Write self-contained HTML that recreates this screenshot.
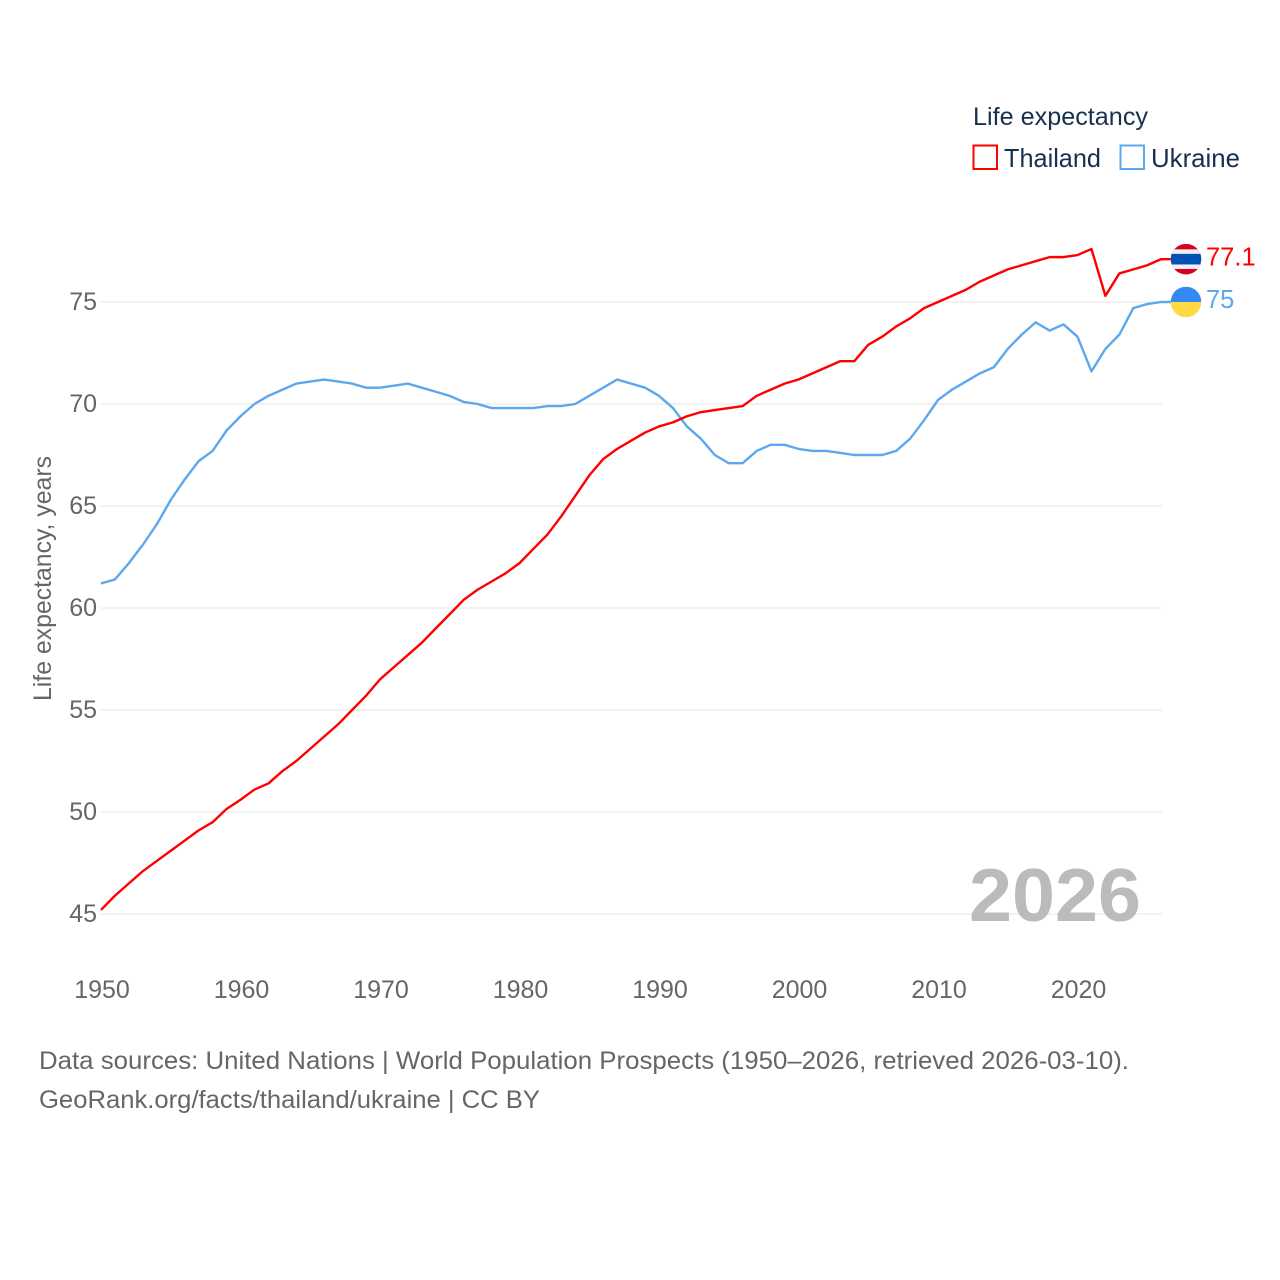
<!DOCTYPE html>
<html lang="en">
<head>
<meta charset="utf-8">
<title>Life expectancy: Thailand vs Ukraine</title>
<style>
html,body{margin:0;padding:0;background:#fff;width:1280px;height:1280px;overflow:hidden}
svg{display:block;font-family:"Liberation Sans",sans-serif}
</style>
</head>
<body>
<svg id="chart" xmlns="http://www.w3.org/2000/svg" width="1280" height="1280" viewBox="0 0 1280 1280">
  <g id="grid"></g>
  <g id="yticks"></g>
  <g id="xticks"></g>
  <text transform="translate(51,701) rotate(-90)" font-size="25" fill="#666" textLength="245" lengthAdjust="spacingAndGlyphs">Life expectancy, years</text>
  <text x="969" y="921" font-size="75" font-weight="700" fill="#bbb" textLength="172" lengthAdjust="spacingAndGlyphs">2026</text>
  <g id="series"></g>

  <g id="flag-thailand"></g>
  <g id="flag-ukraine"></g>
  <g id="endlabels"></g>

  <g>
    <text x="973" y="125" font-size="25" fill="#18304f" textLength="175" lengthAdjust="spacingAndGlyphs">Life expectancy</text>
    <rect x="973.5" y="145.5" width="23.5" height="23.5" fill="none" stroke="#ff0000" stroke-width="2"/>
    <text x="1004" y="167" font-size="26" fill="#18304f" textLength="97" lengthAdjust="spacingAndGlyphs">Thailand</text>
    <rect x="1120.5" y="145.5" width="23.5" height="23.5" fill="none" stroke="#5ca8ef" stroke-width="2"/>
    <text x="1151" y="167" font-size="26" fill="#18304f" textLength="89" lengthAdjust="spacingAndGlyphs">Ukraine</text>
  </g>

  <g>
    <text x="39" y="1069" font-size="25" fill="#666" textLength="1090" lengthAdjust="spacingAndGlyphs">Data sources: United Nations | World Population Prospects (1950–2026, retrieved 2026-03-10).</text>
    <text x="39" y="1108" font-size="25" fill="#666" textLength="501" lengthAdjust="spacingAndGlyphs">GeoRank.org/facts/thailand/ukraine | CC BY</text>
  </g>
</svg>
<script>
const years = [];
for (let y = 1950; y <= 2026; y++) years.push(y);

const thailandValues = [45.2,45.9,46.5,47.1,47.6,48.1,48.6,49.1,49.5,50.15,50.6,51.1,51.4,52.0,52.5,53.1,53.7,54.3,55.0,55.7,56.5,57.1,57.7,58.3,59.0,59.7,60.4,60.9,61.3,61.7,62.2,62.9,63.6,64.5,65.5,66.5,67.3,67.8,68.2,68.6,68.9,69.1,69.4,69.6,69.7,69.8,69.9,70.4,70.7,71.0,71.2,71.5,71.8,72.1,72.1,72.9,73.3,73.8,74.2,74.7,75.0,75.3,75.6,76.0,76.3,76.6,76.8,77.0,77.2,77.2,77.3,77.6,75.3,76.4,76.6,76.8,77.1];

const ukraineValues = [61.2,61.4,62.2,63.1,64.1,65.3,66.3,67.2,67.7,68.7,69.4,70.0,70.4,70.7,71.0,71.1,71.2,71.1,71.0,70.8,70.8,70.9,71.0,70.8,70.6,70.4,70.1,70.0,69.8,69.8,69.8,69.8,69.9,69.9,70.0,70.4,70.8,71.2,71.0,70.8,70.4,69.8,68.9,68.3,67.5,67.1,67.1,67.7,68.0,68.0,67.8,67.7,67.7,67.6,67.5,67.5,67.5,67.7,68.3,69.2,70.2,70.7,71.1,71.5,71.8,72.7,73.4,74.0,73.6,73.9,73.3,71.6,72.7,73.4,74.7,74.9,75.0];

const yTickValues = [45,50,55,60,65,70,75];
const xTickValues = [1950,1960,1970,1980,1990,2000,2010,2020];
const thailandEndLabel = "77.1";
const ukraineEndLabel = "75";

const NS = "http://www.w3.org/2000/svg";
const xScale = function (year) { return 101 + (year - 1950) * 13.95; };
const yScale = function (value) { return 914 - (value - 45) * 20.4; };

function svgEl(tag, attrs, parent) {
  const el = document.createElementNS(NS, tag);
  for (const k in attrs) el.setAttribute(k, attrs[k]);
  parent.appendChild(el);
  return el;
}

const gridGroup = document.getElementById("grid");
const yTickGroup = document.getElementById("yticks");
const xTickGroup = document.getElementById("xticks");
const seriesGroup = document.getElementById("series");
const labelGroup = document.getElementById("endlabels");

yTickValues.forEach(function (v) {
  const line = svgEl("line", {x1: 101, x2: 1162, y1: yScale(v), y2: yScale(v), stroke: "#eeeeee", "stroke-width": 1.5}, gridGroup);
  
  
  const t = svgEl("text", {x: 97, y: yScale(v) + 8, "text-anchor": "end", "font-size": 25, fill: "#666"}, yTickGroup);
  
  
  t.textContent = v;
});

xTickValues.forEach(function (v) {
  const t = svgEl("text", {x: xScale(v) + 1, y: 998, "text-anchor": "middle", "font-size": 25, fill: "#666"}, xTickGroup);
  
  
  t.textContent = v;
});

function linePath(values) {
  let d = values.map(function (v, i) {
    return (i ? "L" : "M") + xScale(years[i]).toFixed(2) + " " + yScale(v).toFixed(2);
  }).join(" ");
  const last = values[values.length - 1];
  d += " L" + (xScale(years[years.length - 1]) + 10).toFixed(2) + " " + yScale(last).toFixed(2);
  return d;
}

const ukraineLine = svgEl("path", {d: linePath(ukraineValues), fill: "none", stroke: "#5ca8ef", "stroke-width": 2.4, "stroke-linejoin": "round"}, seriesGroup);



const thailandLine = svgEl("path", {d: linePath(thailandValues), fill: "none", stroke: "#ff0000", "stroke-width": 2.4, "stroke-linejoin": "round"}, seriesGroup);



function drawThaiFlag(group, cy) {
  const cx = 1186, r = 15.3;
  const clipId = "clip-th";
  const defs = svgEl("defs", {}, group);
  const cp = svgEl("clipPath", {id: clipId}, defs);
  svgEl("circle", {cx: cx, cy: cy, r: r}, cp);
  const g = svgEl("g", {"clip-path": "url(#" + clipId + ")"}, group);
  svgEl("rect", {x: cx - r, y: cy - r, width: 2 * r, height: 2 * r, fill: "#d80027"}, g);
  svgEl("rect", {x: cx - r, y: cy - 9.8, width: 2 * r, height: 19.6, fill: "#f0f0f0"}, g);
  svgEl("rect", {x: cx - r, y: cy - 5.3, width: 2 * r, height: 10.6, fill: "#0052b4"}, g);
}

function drawUkraineFlag(group, cy) {
  const cx = 1186, r = 15.3;
  const clipId = "clip-ua";
  const defs = svgEl("defs", {}, group);
  const cp = svgEl("clipPath", {id: clipId}, defs);
  svgEl("circle", {cx: cx, cy: cy, r: r}, cp);
  const g = svgEl("g", {"clip-path": "url(#" + clipId + ")"}, group);
  svgEl("rect", {x: cx - r, y: cy - r, width: 2 * r, height: r, fill: "#338af3"}, g);
  svgEl("rect", {x: cx - r, y: cy, width: 2 * r, height: r, fill: "#ffda44"}, g);
}

const thaiLast = thailandValues[thailandValues.length - 1];
const ukrLast = ukraineValues[ukraineValues.length - 1];
drawThaiFlag(document.getElementById("flag-thailand"), yScale(thaiLast));
drawUkraineFlag(document.getElementById("flag-ukraine"), yScale(ukrLast));

const thaiLabel = svgEl("text", {x: 1206, y: yScale(thaiLast) + 6.5, "font-size": 25.5, fill: "#ff0000"}, labelGroup);


thaiLabel.textContent = thailandEndLabel;

const ukrLabel = svgEl("text", {x: 1206, y: yScale(ukrLast) + 6, "font-size": 25.5, fill: "#5ca8ef"}, labelGroup);


ukrLabel.textContent = ukraineEndLabel;
</script>
</body>
</html>
